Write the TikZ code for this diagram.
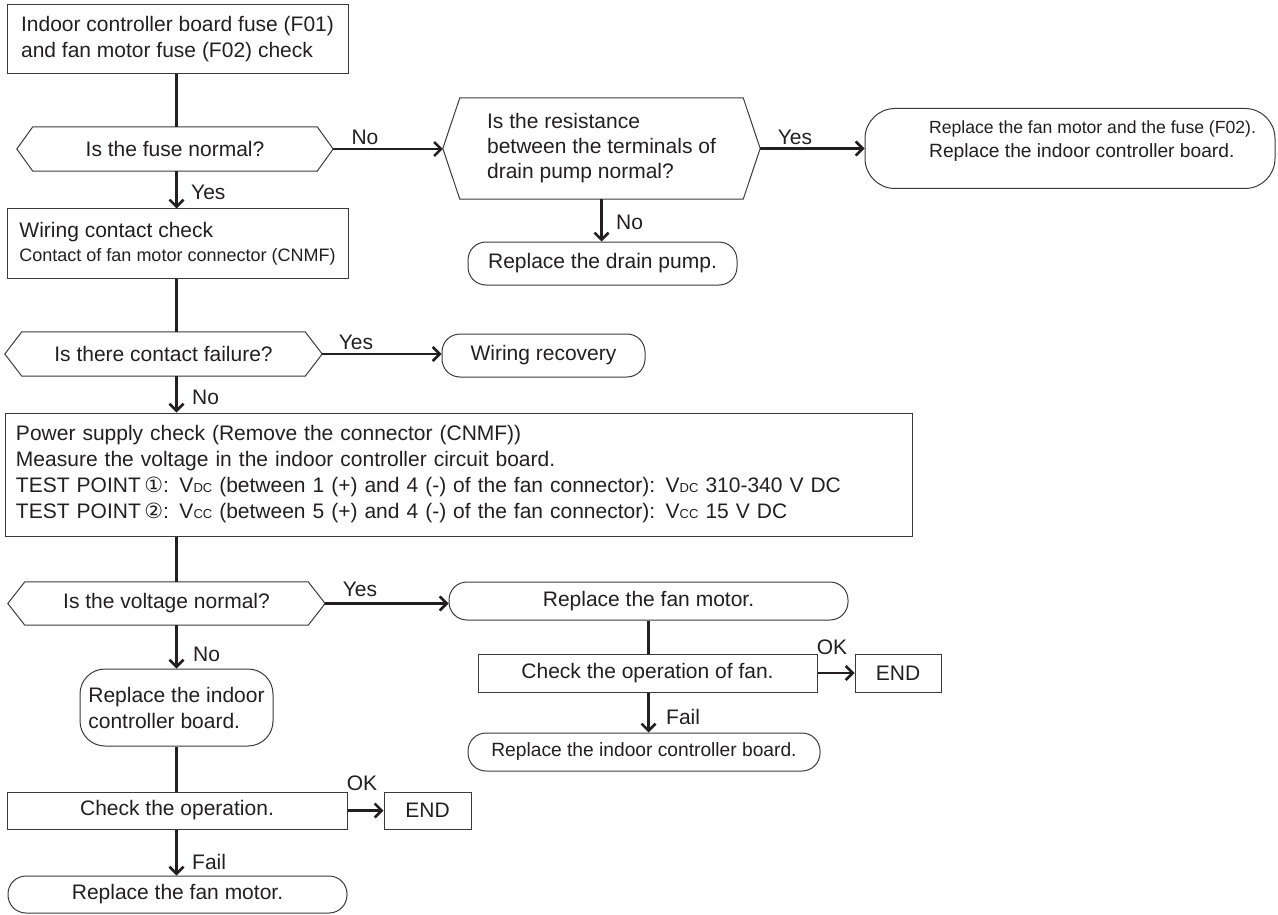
\documentclass[tikz,border=0pt]{standalone}
\usepackage{fontspec}
\setmainfont{Liberation Sans}
\newfontfamily\dejavu{DejaVu Sans}
\usetikzlibrary{arrows.meta}
\definecolor{txt}{HTML}{231F20}
\definecolor{boxc}{HTML}{3A3A3A}
\definecolor{linec}{HTML}{231F20}
\newcommand\nf{\fontsize{21pt}{26pt}\selectfont}
\newcommand\sm[1]{{\fontsize{13pt}{13pt}\selectfont #1}}
\newcommand\hexout[2]{\draw[boxline] (#1.west) -- ([xshift=#2]#1.north west) -- ([xshift=-#2]#1.north east) -- (#1.east) -- ([xshift=-#2]#1.south east) -- ([xshift=#2]#1.south west) -- cycle;}
\begin{document}
\begin{tikzpicture}[x=1pt,y=-1pt,
  boxline/.style={draw=boxc, line width=1pt},
  box/.style={boxline, rectangle, inner sep=0pt, font=\nf, text=txt},
  rbox/.style={box, rounded corners=18pt},
  hex/.style={rectangle, inner sep=0pt, font=\nf, text=txt},
  conn/.style={draw=linec, line width=2.5pt},
  arr/.style={conn, -{Straight Barb[length=7pt,width=14pt]}},
  lab/.style={font=\nf, text=txt, inner sep=0pt}]
\useasboundingbox (0,0) rectangle (1278,915);
\coordinate (col) at (176.5,0);

% left column
\node[box, minimum width=341pt, minimum height=69pt, align=left] (b1) at (177.5,39.5)
  {Indoor controller board fuse (F01)\\and fan motor fuse (F02) check};
\node[hex, minimum width=316pt, minimum height=44pt] (h1) at (175,149) {Is the fuse normal?};
\hexout{h1}{16}
\node[box, minimum width=341pt, minimum height=69pt, align=left, font=\fontsize{21pt}{24pt}\selectfont] (b2) at (177.5,243.5)
  {Wiring contact check\\{\fontsize{18pt}{22pt}\selectfont Contact of fan motor connector (CNMF)}};
\node[hex, minimum width=317pt, minimum height=44pt] (h3) at (163.5,354) {Is there contact failure?};
\hexout{h3}{17}
\node[box, minimum width=907pt, minimum height=123pt, text width=885pt, align=left] (pw) at (458.5,474.5)
  {Power supply check (Remove the connector (CNMF))\\
   Measure the voltage in the indoor controller circuit board.\\
   TEST POINT\,{\dejavu ①}: V\sm{DC} (between 1 (+) and 4 (-) of the fan connector): V\sm{DC} 310-340 V DC\\
   TEST POINT\,{\dejavu ②}: V\sm{CC} (between 5 (+) and 4 (-) of the fan connector): V\sm{CC} 15 V DC};
\node[hex, minimum width=317pt, minimum height=43pt] (h4) at (166.5,603.5) {Is the voltage normal?};
\hexout{h4}{17}
\node[rbox, rounded corners=25pt, minimum width=193pt, minimum height=77pt, align=left] (r6) at (176.5,707.5)
  {Replace the indoor\\controller board.};
\node[box, minimum width=340pt, minimum height=37pt] (c2) at (177,810.5) {Check the operation.};
\node[box, minimum width=87pt, minimum height=37pt] (e2) at (427.5,810.5) {END};
\node[rbox, minimum width=339pt, minimum height=37pt] (r7) at (177.5,894.5) {Replace the fan motor.};

% top right
\node[hex, minimum width=317pt, minimum height=101pt, align=left, font=\fontsize{21pt}{25pt}\selectfont] (h2) at (601.5,148.5)
  {Is the resistance\\between the terminals of\\drain pump normal?};
\hexout{h2}{17}
\node[rbox, rounded corners=30pt, minimum width=410pt, minimum height=80pt] (r1) at (1070,148.5) {};
\node[inner sep=0pt, anchor=west, align=left, text=txt, font=\fontsize{19.2pt}{24pt}\selectfont] (r1t) at (929,141)
  {{\fontsize{17.6pt}{24pt}\selectfont Replace the fan motor and the fuse (F02).}\\Replace the indoor controller board.};
\node[rbox, minimum width=269pt, minimum height=43pt] (r2) at (602.5,263.5) {Replace the drain pump.};
\node[rbox, minimum width=203pt, minimum height=43pt] (r3) at (543.5,355.5) {Wiring recovery};

% lower right
\node[rbox, minimum width=399pt, minimum height=38pt] (r4) at (648.5,601) {Replace the fan motor.};
\node[box, minimum width=339pt, minimum height=38pt] (c1) at (647.5,673) {Check the operation of fan.};
\node[box, minimum width=86pt, minimum height=38pt] (e1) at (898,673) {END};
\node[rbox, minimum width=352pt, minimum height=38pt, font=\fontsize{19.2pt}{24pt}\selectfont] (r5) at (644,752) {Replace the indoor controller board.};

% connectors
\draw[conn] (col |- b1.south) -- (col |- h1.north);
\draw[arr] (col |- h1.south) -- (col |- b2.north);
\draw[arr] (h1.east) -- (h1.east -| h2.west);
\draw[arr] (h2.east) -- (h2.east -| r1.west);
\draw[arr] (h2.south) -- (h2.south |- r2.north);
\draw[conn] (col |- b2.south) -- (col |- h3.north);
\draw[arr] (h3.east) -- (h3.east -| r3.west);
\draw[arr] (col |- h3.south) -- (col |- pw.north);
\draw[conn] (col |- pw.south) -- (col |- h4.north);
\draw[arr] (h4.east) -- (h4.east -| r4.west);
\draw[arr] (col |- h4.south) -- (col |- r6.north);
\draw[conn] (col |- r6.south) -- (col |- c2.north);
\draw[arr] (c2.east) -- (e2.west);
\draw[arr] (col |- c2.south) -- (col |- r7.north);
\draw[conn] (r4.south) -- (r4.south |- c1.north);
\draw[arr] (c1.east) -- (e1.west);
\draw[arr] (r4.south |- c1.south) -- (r4.south |- r5.north);

% labels
\node[lab, anchor=west] (l1) at (191,192) {Yes};
\node[lab] (l2) at (365,137) {No};
\node[lab] (l3) at (795,137) {Yes};
\node[lab, anchor=west] (l4) at (616,222) {No};
\node[lab] (l5) at (356,342) {Yes};
\node[lab, anchor=west] (l6) at (192,397) {No};
\node[lab] (l7) at (360,589) {Yes};
\node[lab, anchor=west] (l8) at (193,654) {No};
\node[lab] (l9) at (832,647) {OK};
\node[lab, anchor=west] (l10) at (666,717) {Fail};
\node[lab] (l11) at (362,783) {OK};
\node[lab, anchor=west] (l12) at (192,862) {Fail};
\end{tikzpicture}
\end{document}
